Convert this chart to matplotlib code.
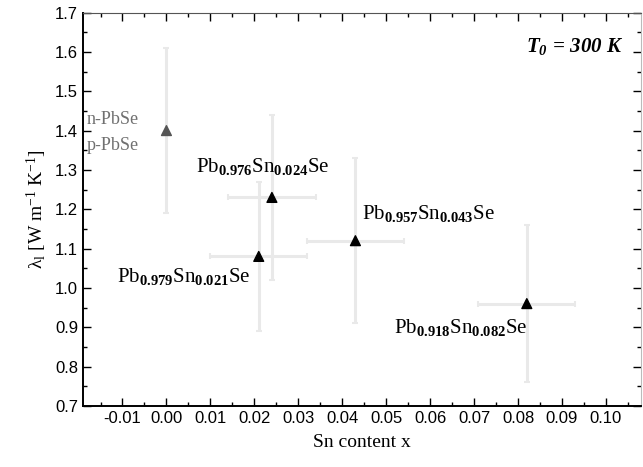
import numpy as np
import matplotlib
matplotlib.use('Agg')
import matplotlib.pyplot as plt
from matplotlib.ticker import MultipleLocator, FormatStrFormatter

plt.rcParams['font.family'] = ['Liberation Serif', 'DejaVu Serif']
plt.rcParams['mathtext.fontset'] = 'custom'
plt.rcParams['mathtext.rm'] = 'Liberation Serif'
plt.rcParams['mathtext.it'] = 'Liberation Serif:italic'
plt.rcParams['mathtext.bf'] = 'Liberation Serif:bold'
plt.rcParams['mathtext.bfit'] = 'Liberation Serif:italic:bold'

# Sn content and lattice thermal conductivity
sn_x = [0.000, 0.024, 0.021, 0.043, 0.082]
lam = [1.40, 1.23, 1.08, 1.12, 0.96]
x_err = [0.0, 0.010, 0.011, 0.011, 0.011]
y_err = [0.21, 0.21, 0.19, 0.21, 0.20]
marker_colors = ['#555555', 'black', 'black', 'black', 'black']

labels = [r'Pb$_{\mathbf{0.976}}$Sn$_{\mathbf{0.024}}$Se', r'Pb$_{\mathbf{0.979}}$Sn$_{\mathbf{0.021}}$Se',
          r'Pb$_{\mathbf{0.957}}$Sn$_{\mathbf{0.043}}$Se', r'Pb$_{\mathbf{0.918}}$Sn$_{\mathbf{0.082}}$Se']
label_pos = [(0.0068, 1.308), (-0.0112, 1.028), (0.0444, 1.19), (0.0517, 0.90)]

fig = plt.figure(figsize=(6.43, 4.67), dpi=100)
ax = fig.add_axes([0.129, 0.131, 0.868, 0.842])

ax.errorbar(sn_x, lam, xerr=x_err, yerr=y_err, fmt='none', ecolor='#e9e9e9',
            elinewidth=2.2, capsize=2, capthick=1.5, zorder=1)
ax.scatter(sn_x, lam, marker='^', c=marker_colors, s=50, zorder=3)

for txt, (px, py) in zip(labels, label_pos):
    ax.text(px, py, txt, fontsize=15, va='center', ha='left')

ax.text(-0.0182, 1.429, 'n-PbSe', fontsize=13, color='#707070', va='center', ha='left')
ax.text(-0.0182, 1.363, 'p-PbSe', fontsize=13, color='#707070', va='center', ha='left')

ax.text(0.968, 0.913, r'$\mathbfit{T}_{\mathbfit{0}}\,\mathbfit{=}\,\mathbfit{300\ K}$',
        transform=ax.transAxes, fontsize=15, ha='right', va='center')

ax.set_xlim(-0.019, 0.108)
ax.set_ylim(0.7, 1.7)
ax.xaxis.set_major_locator(MultipleLocator(0.01))
ax.xaxis.set_minor_locator(MultipleLocator(0.005))
ax.yaxis.set_major_locator(MultipleLocator(0.1))
ax.yaxis.set_minor_locator(MultipleLocator(0.05))
ax.xaxis.set_major_formatter(FormatStrFormatter('%.2f'))
ax.yaxis.set_major_formatter(FormatStrFormatter('%.1f'))
ax.tick_params(which='both', direction='in', top=True, right=True)
ax.tick_params(which='major', length=6, width=1)
ax.tick_params(which='minor', length=3, width=1)
for lbl in ax.get_xticklabels() + ax.get_yticklabels():
    lbl.set_family(['Liberation Sans', 'DejaVu Sans'])
    lbl.set_fontsize(12)

for side in ['left', 'bottom']:
    ax.spines[side].set_linewidth(1.4)
ax.spines['top'].set_color('#555555')
ax.spines['right'].set_color('#bbbbbb')

ax.set_xlabel('Sn content x', fontsize=14, labelpad=6)
ax.set_ylabel(r'λ$_\mathrm{l}$ [W m$^{-1}$ K$^{-1}$]', fontsize=14, labelpad=4)

fig.savefig('out.png', dpi=100)
